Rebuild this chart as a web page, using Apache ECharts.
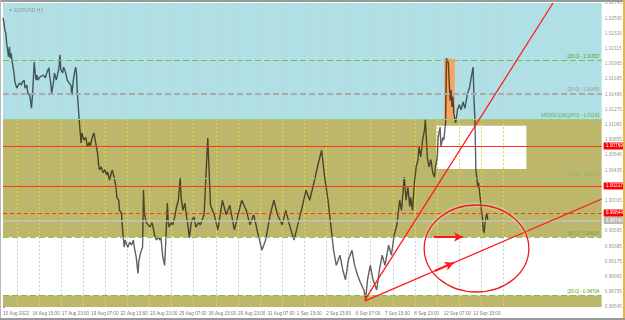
<!DOCTYPE html>
<html><head><meta charset="utf-8">
<script src="https://cdn.jsdelivr.net/npm/echarts@6/dist/echarts.min.js"></script>
<style>
html,body{margin:0;padding:0;background:#fff;}
#wrap{position:relative;width:625px;height:320px;overflow:hidden;}
#chart{position:absolute;left:0;top:0;width:625px;height:320px;}
.b{position:absolute;pointer-events:none;}
</style></head><body>
<div id="wrap"><div id="chart"></div>
<div class="b" style="left:0;top:0;width:625px;height:2px;background:#9a9a9a"></div>
<div class="b" style="left:0;top:0;width:1px;height:320px;background:#b8b8b8"></div>
<div class="b" style="right:0;top:0;width:2px;height:320px;background:#e2b64a"></div>
<div class="b" style="left:0;bottom:0;width:625px;height:2px;background:#9a9a9a"></div>
</div>
<script>
// ---- data ----
const timeTickLabels = ["15 Aug 2022","16 Aug 15:00","17 Aug 23:00","19 Aug 07:00","22 Aug 15:00","23 Aug 23:00","25 Aug 07:00","26 Aug 15:00","29 Aug 23:00","31 Aug 07:00","1 Sep 15:00","2 Sep 23:00","6 Sep 07:00","7 Sep 15:00","8 Sep 23:00","12 Sep 07:00","13 Sep 15:00"];
const priceTickLabels = ["0.98545","0.98755","0.98965","0.99175","0.99385","0.99595","0.99805","1.00015","1.00225","1.00435","1.00646","1.00855","1.01065","1.01275","1.01486","1.01695","1.01905","1.02115","1.02326","1.02536","1.02745"];

const priceBars = [
0,1,2,3,4,5,6,7,8,9,10,11,12,13,15,17,18,20,21,23,24,26,27,29,30,31,32,33,34,35,36,37,38,40,42,44,46,48,50,51,52,53,55,56,58,60,61,62,63,65,66,68,70,72,74,75,76,77,79,80,81,82,
83,85,86,88,90,92,94,95,97,99,101,103,104,105,107,109,111,113,114,116,118,119,121,123,124,126,127,129,130,132,133,134,136,138,140,142,143,145,147,148,150,152,153,154,156,158,160,162,163,165,167,169,171,172,174,176,177,179,180,181,183,185,187,189,191,193,194,196,198,200,201,203,205,206,208,210,213,215,
219,223,226,230,234,239,243,247,252,256,260,265,269,273,278,282,286,291,295,299,304,308,312,317,321,325,330,334,338,343,347,350,354,357,360,363,367,370,373,376,380,383,386,389,393,395,397,400,403,407,410,413,416,420,423,426,429,432,
434,437,439,441,443,444,446,448,450,452,453,455,457,459,460,461,462,464,466,468,470,471,473,474,476,477,479,480,482,483,485,486,487,488,489,490,491,493,495,497,499,501,503,506,508,510,512,513,514,515,516,517,518,520,521,522,523,524,525,526,527,528];
const priceValues = [
1.0254,1.0247,1.0237,1.0233,1.0219,1.0210,1.0200,1.0214,1.0198,1.0205,1.0193,1.0186,1.0178,1.0165,1.0157,1.0158,1.0164,1.0161,1.0165,1.0168,1.0157,1.0161,1.0150,1.0147,1.0140,1.0129,1.0145,1.0168,1.0193,1.0179,1.0168,1.0175,1.0168,1.0172,1.0171,1.0175,1.0171,1.0179,1.0185,1.0172,1.0164,1.0150,1.0165,1.0178,1.0168,1.0179,1.0186,1.0203,1.0182,1.0178,1.0186,1.0179,1.0168,1.0164,1.0161,1.0147,1.0161,1.0171,1.0186,1.0179,1.0150,1.0131,
1.0113,1.0081,1.0095,1.0085,1.0089,1.0076,1.0082,1.0076,1.0088,1.0095,1.0081,1.0067,1.0053,1.0044,1.0048,1.0040,1.0044,1.0037,1.0041,1.0030,1.0040,1.0044,1.0034,1.0020,1.0006,1.0002,0.9988,0.9984,0.9965,0.9937,0.9947,0.9943,0.9937,0.9944,0.9940,0.9947,0.9937,0.9924,0.9901,0.9919,0.9930,0.9937,1.0016,0.9984,0.9971,0.9968,0.9965,0.9971,0.9968,0.9954,0.9947,0.9951,0.9947,0.9951,0.9924,0.9912,0.9937,0.9998,0.9971,0.9965,0.9971,0.9968,0.9979,0.9993,1.0002,1.0033,1.0006,0.9988,0.9998,0.9979,0.9971,0.9950,0.9971,0.9975,0.9979,0.9965,0.9971,0.9968,
0.9982,1.0088,0.9995,0.9982,0.9961,1.0002,0.9982,0.9995,0.9961,0.9982,1.0002,0.9988,0.9968,0.9982,0.9954,0.9933,0.9947,0.9982,1.0002,0.9982,0.9968,0.9988,0.9968,0.9947,0.9968,0.9988,1.0016,1.0002,1.0023,1.0051,1.0071,1.0037,1.0002,0.9968,0.9933,0.9912,0.9926,0.9906,0.9892,0.9919,0.9933,0.9912,0.9899,0.9889,0.9878,0.9866,0.9892,0.9912,0.9892,0.9878,0.9906,0.9926,0.9912,0.9940,0.9926,0.9954,0.9968,1.0002,
0.9988,1.0034,1.0002,1.0020,0.9993,1.0006,0.9988,1.0026,1.0048,1.0058,1.0076,1.0062,1.0085,1.0099,1.0113,1.0089,1.0062,1.0048,1.0058,1.0040,1.0034,1.0048,1.0062,1.0089,1.0103,1.0076,1.0089,1.0085,1.0109,1.0198,1.0192,1.0164,1.0140,1.0154,1.0131,1.0145,1.0122,1.0109,1.0127,1.0134,1.0127,1.0138,1.0129,1.0150,1.0157,1.0172,1.0186,1.0140,1.0113,1.0044,1.0034,1.0020,1.0026,1.0002,0.9988,0.9979,0.9961,0.9957,0.9971,0.9979,0.9984,0.9975];

// zones (price bounds)
const blueZone = [1.01142, 1.02745];
const khakiZone = [0.99510, 1.01142];
const whiteZone = [0.98704, 0.99510];
const khakiZoneLow = [0.98545, 0.98704];
const whiteBox = [[472, 1.0105], [570, 1.0045]];
const orangeBox = [[480.5, 1.01975], [492, 1.01142]];

// horizontal levels
const fibLevels = [1.01957, 1.01495, 1.01142, 1.00327, 0.99510, 0.98704];
const fibLabels = ["[26.0] - 1.01957", "[25.0] - 1.01495", "MID(50.0)/EQ(PO) - 1.01142", "[75.0] - 1.00327", "[50.0] - 0.99510", "[26.0] - 0.98704"];
const redLevels = [1.00769, 1.00217];
const redDashedLevel = 0.99844;
const bidLevel = 0.99740;

// trend lines & arrows (bar index, price)
const trendLineA = [[394, 0.98641], [599, 1.02745]];
const trendLineB = [[394, 0.98627], [652, 1.00037]];
const arrowFlat = [[469, 0.99512], [501, 0.99512]];
const arrowUp = [[470, 0.99042], [491, 0.99157]];
const ellipseCenter = [515.7, 0.99353];
const ellipseRadius = [57, 0.00601];

// ---- chart ----
const X0 = 0, X1 = 652;
const Y0 = 0.98545, Y1 = 1.02745, PX_TOP = 3, PX_H = 304;
const toY = p => PX_TOP + (Y1 - p) / (Y1 - Y0) * PX_H;
const FONT = 'Liberation Sans';

const chart = echarts.init(document.getElementById('chart'), null, {renderer: 'canvas'});

function vGrid(p1, p2, color) {
  const top = toY(p1), bottom = toY(p2);
  return {grid: {left: 16.75, width: 528 * 601 / 652, top: top, height: bottom - top}, color: color};
}
const vgrids = [
  vGrid(blueZone[1], blueZone[0], '#c9cfd2'),
  vGrid(khakiZone[1], khakiZone[0], '#e4d64c'),
  vGrid(whiteZone[1], whiteZone[0], '#d0d0d0'),
  vGrid(khakiZoneLow[1], khakiZoneLow[0], '#e4d64c')
];

const grids = [{left: 2, right: 22, top: PX_TOP, height: PX_H}].concat(vgrids.map(g => g.grid));
const xAxes = [{
  gridIndex: 0, type: 'value', min: X0, max: X1, interval: 32,
  axisLine: {show: false}, axisTick: {show: false}, splitLine: {show: false},
  axisLabel: {
    align: 'left', margin: 4, fontSize: 4.6, color: '#777', fontFamily: FONT,
    showMinLabel: true, showMaxLabel: false, hideOverlap: false,
    formatter: v => { const i = Math.round(v / 32); return (Math.abs(v - i * 32) < 1e-6 && i < timeTickLabels.length) ? timeTickLabels[i] : ''; }
  }
}].concat(vgrids.map((g, i) => ({
  gridIndex: i + 1, type: 'value', min: 0, max: 528, interval: 24, z: 1.5,
  axisLine: {show: false}, axisTick: {show: false}, axisLabel: {show: false},
  splitLine: {show: true, lineStyle: {color: g.color, type: [2, 2], width: 1}}
})));
const yAxes = [{
  gridIndex: 0, type: 'value', position: 'right', min: Y0, max: Y1, interval: 0.0021,
  axisLine: {show: true, lineStyle: {color: '#9a9a9a'}},
  axisTick: {show: true, length: 2, lineStyle: {color: '#9a9a9a'}},
  splitLine: {show: false},
  axisLabel: {
    margin: 3, fontSize: 4.8, color: '#999', fontFamily: FONT, showMinLabel: true, showMaxLabel: true,
    formatter: v => { const i = Math.round((v - Y0) / 0.0021); return priceTickLabels[i] || ''; }
  }
}].concat(vgrids.map((g, i) => ({gridIndex: i + 1, type: 'value', show: false, min: 0, max: 1})));

const fibColors = ['#7dbf4e', '#aaaaaa', '#9fcf82', '#a6c68c', '#8cc466', '#7dbf4e'];
const fibText = ['#5c9e30', '#9a9a9a', '#6aa84f', '#8ab070', '#6aa84f', '#5c9e30'];
function hLine(v, lineStyle, label) {
  return [{coord: [X0, v], lineStyle: lineStyle, label: label}, {coord: [X1, v]}];
}
const levelData = fibLevels.map((v, i) => hLine(v,
  {color: fibColors[i], type: [6, 3], width: i === 1 ? 2 : 1},
  {show: true, position: 'insideEndTop', distance: [2, 1], formatter: fibLabels[i], fontSize: 4.6, color: fibText[i], fontFamily: FONT}));
const boxLabel = (bg, txt) => ({show: true, position: 'end', distance: 2, formatter: txt, fontSize: 4.8, fontFamily: FONT,
  color: '#fff', backgroundColor: bg, padding: [1, 2, 1, 2]});
redLevels.forEach(v => levelData.push(hLine(v, {color: '#f83a12', type: 'solid', width: 1}, boxLabel('#ff0000', v.toFixed(5)))));
levelData.push(hLine(redDashedLevel, {color: '#f83a12', type: [4, 3], width: 1}, boxLabel('#ff0000', redDashedLevel.toFixed(5))));
levelData.push(hLine(bidLevel, {color: '#c4c4c4', type: 'solid', width: 1.5}, boxLabel('#b8b8b8', bidLevel.toFixed(5))));

const red = '#ff1a1a';
const option = {
  animation: false,
  backgroundColor: '#fff',
  title: {text: '\u25BC EURUSD,H1', left: 3, top: 3, textStyle: {fontSize: 5, color: '#999', fontWeight: 'normal', fontFamily: FONT}},
  grid: grids,
  xAxis: xAxes,
  yAxis: yAxes,
  series: [
    {
      name: 'zones', type: 'line', data: [], z: 1, xAxisIndex: 0, yAxisIndex: 0,
      markArea: {
        silent: true,
        data: [
          [{coord: [X0, blueZone[0]], itemStyle: {color: '#b0e0e6'}}, {coord: [X1, blueZone[1]]}],
          [{coord: [X0, khakiZone[0]], itemStyle: {color: '#bdb76b'}}, {coord: [X1, khakiZone[1]]}],
          [{coord: [X0, whiteZone[0]], itemStyle: {color: '#ffffff'}}, {coord: [X1, whiteZone[1]]}],
          [{coord: [X0, khakiZoneLow[0]], itemStyle: {color: '#bdb76b'}}, {coord: [X1, khakiZoneLow[1]]}],
          [{coord: whiteBox[0], itemStyle: {color: '#ffffff'}}, {coord: whiteBox[1]}],
          [{coord: orangeBox[0], itemStyle: {color: '#f4a460'}}, {coord: orangeBox[1]}]
        ]
      }
    },
    {
      name: 'EURUSD', type: 'line', z: 3, xAxisIndex: 0, yAxisIndex: 0,
      data: priceBars.map((b, i) => [b, priceValues[i]]),
      showSymbol: false, symbol: 'none',
      lineStyle: {color: 'rgba(0,0,0,0.62)', width: 1.4}
    },
    {
      name: 'levels', type: 'line', data: [], z: 4, xAxisIndex: 0, yAxisIndex: 0,
      markLine: {silent: true, symbol: 'none', data: levelData}
    },
    {
      name: 'trend', type: 'line', data: [], z: 5, xAxisIndex: 0, yAxisIndex: 0,
      markLine: {
        silent: true, symbol: 'none', label: {show: false},
        data: [
          [{coord: trendLineA[0], lineStyle: {color: red, width: 1.3, type: 'solid'}}, {coord: trendLineA[1]}],
          [{coord: trendLineB[0], lineStyle: {color: red, width: 1.3, type: 'solid'}}, {coord: trendLineB[1]}],
          [{coord: arrowFlat[0], symbol: 'none', lineStyle: {color: red, width: 2, type: 'solid'}}, {coord: arrowFlat[1], symbol: 'arrow', symbolSize: [7, 9]}],
          [{coord: arrowUp[0], symbol: 'none', lineStyle: {color: red, width: 2, type: 'solid'}}, {coord: arrowUp[1], symbol: 'arrow', symbolSize: [7, 9]}]
        ]
      }
    }
  ]
};
chart.setOption(option);

const c = chart.convertToPixel({gridIndex: 0}, ellipseCenter);
const e = chart.convertToPixel({gridIndex: 0}, [ellipseCenter[0] + ellipseRadius[0], ellipseCenter[1] + ellipseRadius[1]]);
chart.setOption({graphic: [{
  type: 'ellipse', z: 20, silent: true,
  shape: {cx: c[0], cy: c[1], rx: Math.abs(e[0] - c[0]), ry: Math.abs(e[1] - c[1])},
  style: {fill: 'none', stroke: '#ee1c1c', lineWidth: 1.3, shadowBlur: 3, shadowColor: 'rgba(255,255,255,0.9)'}
}]});
</script>
</body></html>
